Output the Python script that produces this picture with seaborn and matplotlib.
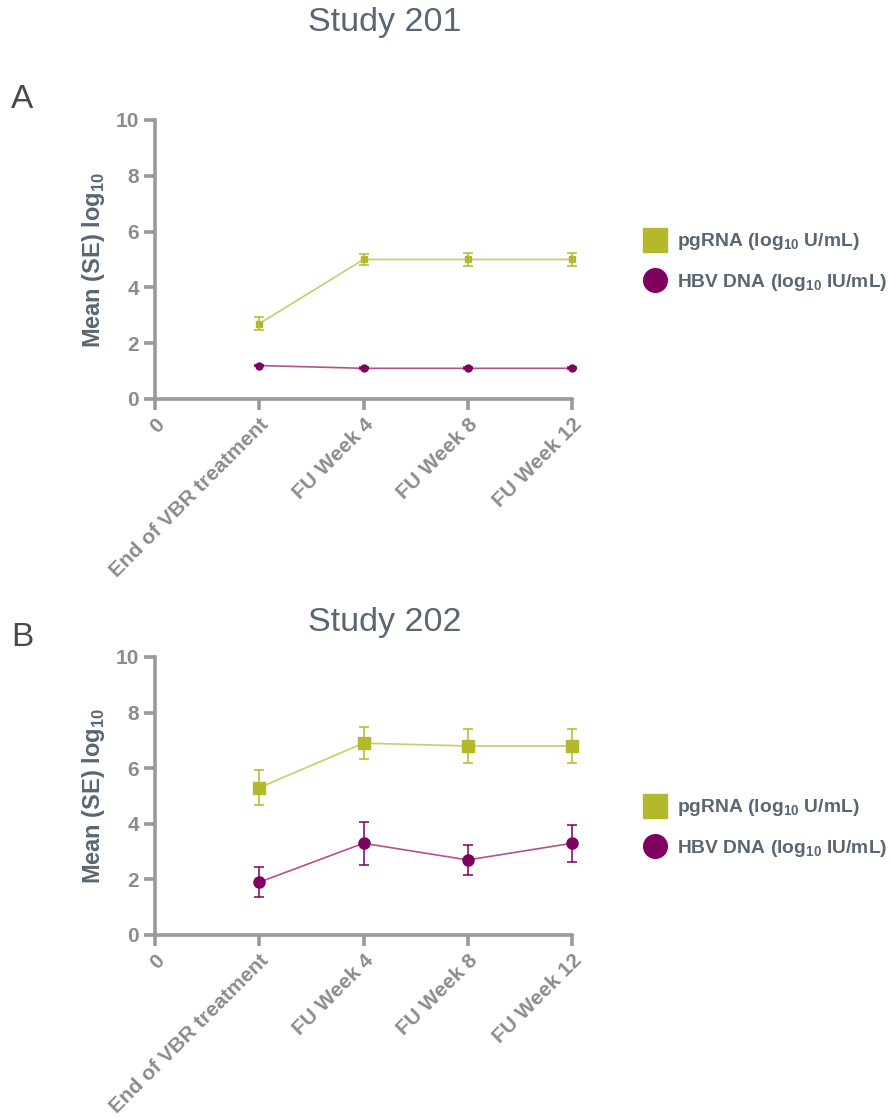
import numpy as np
import pandas as pd
import matplotlib
matplotlib.use("Agg")
import matplotlib.pyplot as plt
from matplotlib.lines import Line2D
import seaborn as sns

categories = ["0", "End of VBR treatment", "FU Week 4", "FU Week 8", "FU Week 12"]
timepoints = ["End of VBR treatment", "FU Week 4", "FU Week 8", "FU Week 12"]

s201_pgrna = [2.7, 5.0, 5.0, 5.0]
s201_pgrna_se = [0.24, 0.2, 0.22, 0.22]
s201_dna = [1.2, 1.1, 1.1, 1.1]
s201_dna_se = [0.03, 0.03, 0.03, 0.03]

s202_pgrna = [5.3, 6.9, 6.8, 6.8]
s202_pgrna_se = [0.62, 0.57, 0.6, 0.62]
s202_dna = [1.9, 3.3, 2.7, 3.3]
s202_dna_se = [0.55, 0.78, 0.53, 0.66]

series_names = ["pgRNA", "HBV DNA"]
legend_labels = [r"pgRNA (log$_{\mathbf{10}}$ U/mL)", r"HBV DNA (log$_{\mathbf{10}}$ IU/mL)"]
yticks = [0, 2, 4, 6, 8, 10]

PG = "#b3b82c"
PG_LINE = "#c9cc6a"
DNA = "#7f005f"
DNA_LINE = "#b0528f"
GREY = "#8c8c8e"
SPINE = "#9a9a9c"
SLATE = "#5a6672"

sns.set_theme(style="white")
plt.rcParams["font.family"] = ["Liberation Sans", "DejaVu Sans"]
plt.rcParams["mathtext.fontset"] = "custom"
plt.rcParams["mathtext.rm"] = "Liberation Sans:bold"
plt.rcParams["mathtext.bf"] = "Liberation Sans:bold"

fig = plt.figure(figsize=(8.9, 11.18), dpi=100)

def make_df(pg, pg_se, dna, dna_se):
    rows = []
    for i, t in enumerate(timepoints):
        rows.append({"x": categories.index(t), "mean": pg[i], "se": pg_se[i], "series": "pgRNA"})
        rows.append({"x": categories.index(t), "mean": dna[i], "se": dna_se[i], "series": "HBV DNA"})
    return pd.DataFrame(rows)

def draw(ax, df, msize, lw):
    sns.lineplot(data=df, x="x", y="mean", hue="series", style="series",
                 palette={"pgRNA": PG_LINE, "HBV DNA": DNA_LINE},
                 markers={"pgRNA": "s", "HBV DNA": "o"}, dashes=False,
                 linewidth=lw, markersize=0, legend=False, ax=ax, zorder=2)
    for name, col, mk in [("pgRNA", PG, "s"), ("HBV DNA", DNA, "o")]:
        d = df[df.series == name]
        cont = ax.errorbar(d["x"], d["mean"], yerr=d["se"], fmt=mk, color=col,
                           ecolor=col, elinewidth=1.1, capsize=3.5, capthick=1.1,
                           markersize=msize, zorder=3)
        for art in [cont[0], *cont[1], *cont[2]]:
            art.set_clip_on(False)
    ax.set_xlim(0, len(categories) - 1)
    ax.set_ylim(0, 10)
    ax.set_yticks(yticks)
    ax.set_xticks(range(len(categories)))
    ax.set_xticklabels(categories, rotation=45, ha="right", rotation_mode="anchor")
    for sp in ["top", "right"]:
        ax.spines[sp].set_visible(False)
    for sp in ["left", "bottom"]:
        ax.spines[sp].set_color(SPINE)
        ax.spines[sp].set_linewidth(2.6)
    ax.tick_params(axis="both", which="major", direction="out", length=8, width=2.6,
                   color=SPINE, labelcolor=GREY, labelsize=15, left=True, bottom=True)
    for lab in ax.get_xticklabels() + ax.get_yticklabels():
        lab.set_fontweight("bold")
    ax.set_xlabel("")
    ax.set_ylabel(r"Mean (SE) log$_{\mathbf{10}}$", fontsize=17, fontweight="bold", color=SLATE, labelpad=6)
    ax.grid(False)

ax1 = fig.add_axes([155/890, 1-399/1118, (572-155)/890, (399-120)/1118])
ax2 = fig.add_axes([155/890, 1-935/1118, (572-155)/890, (935-657)/1118])

draw(ax1, make_df(s201_pgrna, s201_pgrna_se, s201_dna, s201_dna_se), 5, 1.2)
draw(ax2, make_df(s202_pgrna, s202_pgrna_se, s202_dna, s202_dna_se), 8, 1.2)

fig.text(385/890, 1-22/1118, "Study 201", ha="center", va="center", fontsize=24.5, color=SLATE)
fig.text(385/890, 1-622/1118, "Study 202", ha="center", va="center", fontsize=24.5, color=SLATE)
fig.text(22/890, 1-100/1118, "A", ha="center", va="center", fontsize=24, color="#4a4a4a")
fig.text(22/890, 1-637/1118, "B", ha="center", va="center", fontsize=24, color="#4a4a4a")

handles = [Line2D([], [], linestyle="none", marker="s", markersize=17, color=PG),
           Line2D([], [], linestyle="none", marker="o", markersize=17, color=DNA)]
for ycen in [262/1118, 828/1118]:
    leg = fig.legend(handles, legend_labels, loc="center left",
                     bbox_to_anchor=(626/890, 1-ycen), frameon=False,
                     handletextpad=0.55, labelspacing=1.0, handlelength=1.2,
                     prop={"family": "Liberation Sans", "weight": "bold", "size": 13.9})
    for t in leg.get_texts():
        t.set_color(SLATE)

fig.savefig("out.png", dpi=100)
